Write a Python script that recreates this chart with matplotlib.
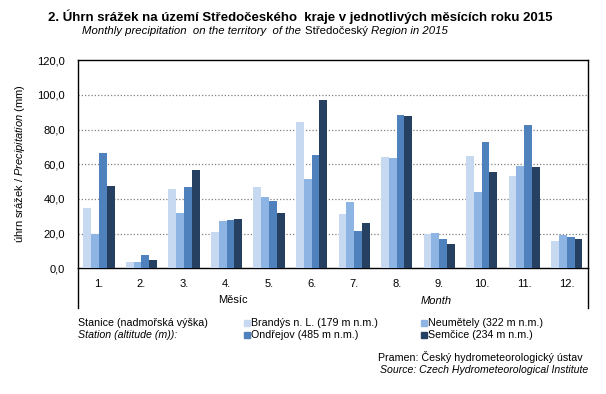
import matplotlib
matplotlib.use("Agg")
import matplotlib.pyplot as plt
import numpy as np
from matplotlib.lines import Line2D

plt.rcParams['font.family'] = ['Liberation Sans', 'DejaVu Sans']
plt.rcParams['mathtext.fontset'] = 'custom'
plt.rcParams['mathtext.rm'] = 'Liberation Sans'
plt.rcParams['mathtext.it'] = 'Liberation Sans:italic'

months = ["1.", "2.", "3.", "4.", "5.", "6.", "7.", "8.", "9.", "10.", "11.", "12."]
series_names = ["Brandýs n. L. (179 m n.m.)", "Neumětely (322 m n.m.)",
                "Ondřejov (485 m n.m.)", "Semčice (234 m n.m.)"]
brandys = [34.8, 3.7, 45.8, 21.0, 46.9, 84.4, 31.3, 64.2, 19.8, 64.8, 53.3, 15.8]
neumetely = [19.8, 3.7, 31.9, 27.3, 41.2, 51.5, 38.3, 63.7, 20.4, 44.0, 59.0, 19.2]
ondrejov = [66.5, 7.7, 46.9, 27.9, 38.8, 65.4, 21.5, 88.5, 16.9, 72.9, 82.7, 18.1]
semcice = [47.5, 4.8, 56.7, 28.5, 31.9, 97.1, 26.2, 87.9, 14.0, 55.6, 58.5, 16.9]
colors = ["#C6D9F1", "#8EB4E3", "#4F81BD", "#254061"]
yticks = [0, 20, 40, 60, 80, 100, 120]

W, H = 606, 394
fig = plt.figure(figsize=(W / 100, H / 100), dpi=100)
renderer = fig.canvas.get_renderer()

def fx(px):
    return px / W

def fy(py):
    return 1 - py / H

ax_l, ax_r, ax_t, ax_b = 77.7, 588.0, 60.3, 268.3
ax = fig.add_axes([fx(ax_l), fy(ax_b), fx(ax_r - ax_l), (ax_b - ax_t) / H])

x = np.arange(1, 13)
w = 0.183
data = [brandys, neumetely, ondrejov, semcice]
for i, (vals, c) in enumerate(zip(data, colors)):
    ax.bar(x + (i - 1.5) * w, vals, width=w, color=c, zorder=3, linewidth=0)

ax.set_xlim(0.5, 12.5)
ax.set_ylim(0, 120)
ax.set_yticks(yticks)
ax.set_yticklabels([f"{v:.1f}".replace(".", ",") for v in yticks])
ax.set_xticks(x)
ax.set_xticklabels(months)
ax.tick_params(axis='both', length=0, labelsize=8, colors='black')
ax.tick_params(axis='y', pad=9)
ax.tick_params(axis='x', pad=8)
for v in yticks[1:-1]:
    ax.axhline(v, color='#808080', linewidth=0.9, linestyle=(0, (1, 1.6)), zorder=1)
for s in ax.spines.values():
    s.set_color('black')
    s.set_linewidth(1.0)

# extension lines below axes
for px in (ax_l, ax_r):
    fig.add_artist(Line2D([fx(px), fx(px)], [fy(ax_b), fy(308)], color='black', linewidth=1.0))

# y label
fig.text(fx(20), fy(164), "úhrn srážek / $\\mathit{Precipitation}$ (mm)", rotation=90,
         ha='center', va='center', fontsize=8)

# titles
fig.text(fx(300), fy(17), "2. Úhrn srážek na území Středočeského  kraje v jednotlivých měsících roku 2015",
         ha='center', va='center', fontsize=9.5, fontweight='bold')


def mixed_line(parts, x_center_px, y_px, size):
    texts = []
    widths = []
    for s, st in parts:
        t = fig.text(0, fy(y_px), s, ha='left', va='center', fontsize=size, style=st)
        bb = t.get_window_extent(renderer)
        texts.append(t)
        widths.append(bb.width)
    total = sum(widths)
    cur = x_center_px - total / 2
    for t, wd in zip(texts, widths):
        t.set_x(fx(cur))
        cur += wd


mixed_line([("Monthly precipitation  on the territory  of the\u00a0", 'italic'),
            ("Středočeský\u00a0", 'normal'),
            ("Region in 2015", 'italic')], 265, 31, 8.2)

# axis titles
fig.text(fx(233), fy(300), "Měsíc", ha='center', va='center', fontsize=8)
fig.text(fx(436), fy(301), "Month", ha='center', va='center', fontsize=8, style='italic')

# legend
fig.text(fx(78), fy(322.7), "Stanice (nadmořská výška)", ha='left', va='center', fontsize=7.7)
fig.text(fx(78), fy(335), "Station (altitude (m)):", ha='left', va='center', fontsize=7.7, style='italic')
pos = [(244, 322.7), (421.5, 322.7), (244, 335), (421.5, 335)]
for (px, py), name, c in zip(pos, series_names, colors):
    fig.patches.append(plt.Rectangle((fx(px), fy(py + 3)), fx(6), 6 / H, color=c,
                                     transform=fig.transFigure, figure=fig))
    fig.text(fx(px + 7), fy(py), name, ha='left', va='center', fontsize=7.7)

# source
fig.text(fx(378.5), fy(356.7), "Pramen: Český hydrometeorologický ústav", ha='left', va='center', fontsize=7.7)
fig.text(fx(380.5), fy(370), "Source: Czech Hydrometeorological Institute", ha='left', va='center',
         fontsize=7.6, style='italic')

fig.savefig("out.png", dpi=100)
